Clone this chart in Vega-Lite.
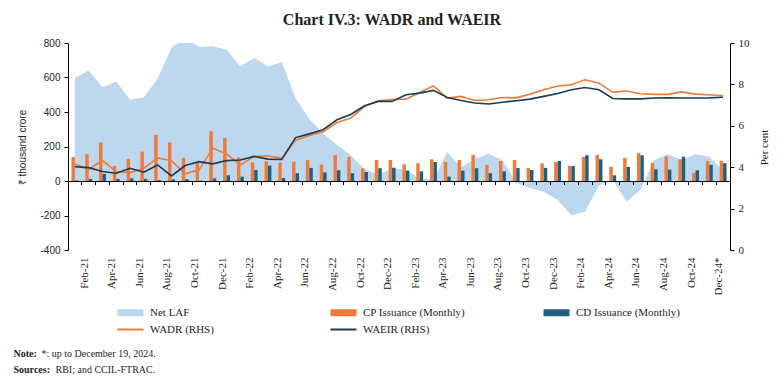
{
  "$schema": "https://vega.github.io/schema/vega-lite/v6.json",
  "width": 662,
  "height": 207,
  "autosize": {"type": "none"},
  "padding": {"left": 68, "top": 43, "right": 54, "bottom": 134},
  "background": "white",
  "title": {"text": "Chart IV.3: WADR and WAEIR", "font": "Liberation Serif", "fontSize": 16, "fontWeight": "bold", "color": "#231f20", "anchor": "middle", "frame": "group", "dx": -7, "offset": -4, "baseline": "alphabetic"},
  "config": {
    "view": {"stroke": null},
    "axis": {"grid": false, "domainColor": "#000000", "tickColor": "#000000", "labelColor": "#231f20", "titleColor": "#231f20", "domainWidth": 1, "tickWidth": 1},
    "legend": {"orient": "none", "legendX": 49, "legendY": 264, "columns": 3, "direction": "horizontal", "gridAlign": "all", "columnPadding": 72, "rowPadding": 5,
               "padding": 0, "labelFont": "Liberation Serif", "labelFontSize": 11, "labelColor": "#231f20",
               "symbolSize": 100, "symbolOffset": 8, "labelOffset": 14}
  },
  "data": {"values": [
    {"m": "Jan-21", "Net LAF": 597, "CP Issuance (Monthly)": 139, "CD Issuance (Monthly)": 3, "WADR (RHS)": 4.16, "WAEIR (RHS)": 4.02},
    {"m": "Feb-21", "Net LAF": 641, "CP Issuance (Monthly)": 157, "CD Issuance (Monthly)": 12, "WADR (RHS)": 3.90, "WAEIR (RHS)": 3.98},
    {"m": "Mar-21", "Net LAF": 544, "CP Issuance (Monthly)": 223, "CD Issuance (Monthly)": 41, "WADR (RHS)": 4.32, "WAEIR (RHS)": 3.79},
    {"m": "Apr-21", "Net LAF": 577, "CP Issuance (Monthly)": 87, "CD Issuance (Monthly)": 12, "WADR (RHS)": 3.79, "WAEIR (RHS)": 3.71},
    {"m": "May-21", "Net LAF": 471, "CP Issuance (Monthly)": 128, "CD Issuance (Monthly)": 15, "WADR (RHS)": 3.74, "WAEIR (RHS)": 3.95},
    {"m": "Jun-21", "Net LAF": 486, "CP Issuance (Monthly)": 170, "CD Issuance (Monthly)": 12, "WADR (RHS)": 3.95, "WAEIR (RHS)": 3.76},
    {"m": "Jul-21", "Net LAF": 593, "CP Issuance (Monthly)": 267, "CD Issuance (Monthly)": 6, "WADR (RHS)": 4.45, "WAEIR (RHS)": 4.11},
    {"m": "Aug-21", "Net LAF": 771, "CP Issuance (Monthly)": 223, "CD Issuance (Monthly)": 10, "WADR (RHS)": 4.31, "WAEIR (RHS)": 3.58},
    {"m": "Sep-21", "Net LAF": 830, "CP Issuance (Monthly)": 134, "CD Issuance (Monthly)": 10, "WADR (RHS)": 3.68, "WAEIR (RHS)": 4.08},
    {"m": "Oct-21", "Net LAF": 777, "CP Issuance (Monthly)": 105, "CD Issuance (Monthly)": 2, "WADR (RHS)": 3.87, "WAEIR (RHS)": 4.27},
    {"m": "Nov-21", "Net LAF": 781, "CP Issuance (Monthly)": 289, "CD Issuance (Monthly)": 15, "WADR (RHS)": 4.92, "WAEIR (RHS)": 4.16},
    {"m": "Dec-21", "Net LAF": 761, "CP Issuance (Monthly)": 250, "CD Issuance (Monthly)": 33, "WADR (RHS)": 4.64, "WAEIR (RHS)": 4.32},
    {"m": "Jan-22", "Net LAF": 664, "CP Issuance (Monthly)": 136, "CD Issuance (Monthly)": 25, "WADR (RHS)": 4.11, "WAEIR (RHS)": 4.35},
    {"m": "Feb-22", "Net LAF": 713, "CP Issuance (Monthly)": 108, "CD Issuance (Monthly)": 64, "WADR (RHS)": 4.52, "WAEIR (RHS)": 4.52},
    {"m": "Mar-22", "Net LAF": 664, "CP Issuance (Monthly)": 114, "CD Issuance (Monthly)": 89, "WADR (RHS)": 4.55, "WAEIR (RHS)": 4.39},
    {"m": "Apr-22", "Net LAF": 690, "CP Issuance (Monthly)": 107, "CD Issuance (Monthly)": 17, "WADR (RHS)": 4.43, "WAEIR (RHS)": 4.37},
    {"m": "May-22", "Net LAF": 480, "CP Issuance (Monthly)": 112, "CD Issuance (Monthly)": 45, "WADR (RHS)": 5.30, "WAEIR (RHS)": 5.43},
    {"m": "Jun-22", "Net LAF": 360, "CP Issuance (Monthly)": 122, "CD Issuance (Monthly)": 76, "WADR (RHS)": 5.53, "WAEIR (RHS)": 5.61},
    {"m": "Jul-22", "Net LAF": 276, "CP Issuance (Monthly)": 95, "CD Issuance (Monthly)": 50, "WADR (RHS)": 5.71, "WAEIR (RHS)": 5.81},
    {"m": "Aug-22", "Net LAF": 210, "CP Issuance (Monthly)": 151, "CD Issuance (Monthly)": 62, "WADR (RHS)": 6.16, "WAEIR (RHS)": 6.29},
    {"m": "Sep-22", "Net LAF": 150, "CP Issuance (Monthly)": 139, "CD Issuance (Monthly)": 45, "WADR (RHS)": 6.37, "WAEIR (RHS)": 6.55},
    {"m": "Oct-22", "Net LAF": 70, "CP Issuance (Monthly)": 74, "CD Issuance (Monthly)": 52, "WADR (RHS)": 6.93, "WAEIR (RHS)": 6.97},
    {"m": "Nov-22", "Net LAF": 35, "CP Issuance (Monthly)": 122, "CD Issuance (Monthly)": 74, "WADR (RHS)": 7.21, "WAEIR (RHS)": 7.18},
    {"m": "Dec-22", "Net LAF": 72, "CP Issuance (Monthly)": 122, "CD Issuance (Monthly)": 77, "WADR (RHS)": 7.27, "WAEIR (RHS)": 7.18},
    {"m": "Jan-23", "Net LAF": 65, "CP Issuance (Monthly)": 97, "CD Issuance (Monthly)": 60, "WADR (RHS)": 7.29, "WAEIR (RHS)": 7.50},
    {"m": "Feb-23", "Net LAF": 15, "CP Issuance (Monthly)": 103, "CD Issuance (Monthly)": 56, "WADR (RHS)": 7.61, "WAEIR (RHS)": 7.58},
    {"m": "Mar-23", "Net LAF": 8, "CP Issuance (Monthly)": 126, "CD Issuance (Monthly)": 110, "WADR (RHS)": 7.93, "WAEIR (RHS)": 7.71},
    {"m": "Apr-23", "Net LAF": 168, "CP Issuance (Monthly)": 110, "CD Issuance (Monthly)": 25, "WADR (RHS)": 7.34, "WAEIR (RHS)": 7.37},
    {"m": "May-23", "Net LAF": 80, "CP Issuance (Monthly)": 122, "CD Issuance (Monthly)": 60, "WADR (RHS)": 7.42, "WAEIR (RHS)": 7.22},
    {"m": "Jun-23", "Net LAF": 128, "CP Issuance (Monthly)": 151, "CD Issuance (Monthly)": 74, "WADR (RHS)": 7.22, "WAEIR (RHS)": 7.10},
    {"m": "Jul-23", "Net LAF": 160, "CP Issuance (Monthly)": 93, "CD Issuance (Monthly)": 45, "WADR (RHS)": 7.26, "WAEIR (RHS)": 7.05},
    {"m": "Aug-23", "Net LAF": 120, "CP Issuance (Monthly)": 116, "CD Issuance (Monthly)": 56, "WADR (RHS)": 7.37, "WAEIR (RHS)": 7.14},
    {"m": "Sep-23", "Net LAF": -10, "CP Issuance (Monthly)": 122, "CD Issuance (Monthly)": 75, "WADR (RHS)": 7.35, "WAEIR (RHS)": 7.21},
    {"m": "Oct-23", "Net LAF": -40, "CP Issuance (Monthly)": 75, "CD Issuance (Monthly)": 64, "WADR (RHS)": 7.53, "WAEIR (RHS)": 7.29},
    {"m": "Nov-23", "Net LAF": -62, "CP Issuance (Monthly)": 102, "CD Issuance (Monthly)": 76, "WADR (RHS)": 7.74, "WAEIR (RHS)": 7.42},
    {"m": "Dec-23", "Net LAF": -110, "CP Issuance (Monthly)": 109, "CD Issuance (Monthly)": 116, "WADR (RHS)": 7.92, "WAEIR (RHS)": 7.56},
    {"m": "Jan-24", "Net LAF": -198, "CP Issuance (Monthly)": 88, "CD Issuance (Monthly)": 87, "WADR (RHS)": 7.98, "WAEIR (RHS)": 7.74},
    {"m": "Feb-24", "Net LAF": -178, "CP Issuance (Monthly)": 139, "CD Issuance (Monthly)": 149, "WADR (RHS)": 8.22, "WAEIR (RHS)": 7.85},
    {"m": "Mar-24", "Net LAF": -25, "CP Issuance (Monthly)": 151, "CD Issuance (Monthly)": 126, "WADR (RHS)": 8.06, "WAEIR (RHS)": 7.74},
    {"m": "Apr-24", "Net LAF": 8, "CP Issuance (Monthly)": 83, "CD Issuance (Monthly)": 33, "WADR (RHS)": 7.63, "WAEIR (RHS)": 7.32},
    {"m": "May-24", "Net LAF": -120, "CP Issuance (Monthly)": 134, "CD Issuance (Monthly)": 82, "WADR (RHS)": 7.68, "WAEIR (RHS)": 7.30},
    {"m": "Jun-24", "Net LAF": -52, "CP Issuance (Monthly)": 163, "CD Issuance (Monthly)": 149, "WADR (RHS)": 7.55, "WAEIR (RHS)": 7.30},
    {"m": "Jul-24", "Net LAF": 120, "CP Issuance (Monthly)": 105, "CD Issuance (Monthly)": 68, "WADR (RHS)": 7.52, "WAEIR (RHS)": 7.34},
    {"m": "Aug-24", "Net LAF": 155, "CP Issuance (Monthly)": 143, "CD Issuance (Monthly)": 66, "WADR (RHS)": 7.52, "WAEIR (RHS)": 7.35},
    {"m": "Sep-24", "Net LAF": 120, "CP Issuance (Monthly)": 126, "CD Issuance (Monthly)": 141, "WADR (RHS)": 7.64, "WAEIR (RHS)": 7.34},
    {"m": "Oct-24", "Net LAF": 156, "CP Issuance (Monthly)": 47, "CD Issuance (Monthly)": 62, "WADR (RHS)": 7.53, "WAEIR (RHS)": 7.34},
    {"m": "Nov-24", "Net LAF": 140, "CP Issuance (Monthly)": 116, "CD Issuance (Monthly)": 94, "WADR (RHS)": 7.50, "WAEIR (RHS)": 7.35},
    {"m": "Dec-24", "Net LAF": 60, "CP Issuance (Monthly)": 117, "CD Issuance (Monthly)": 103, "WADR (RHS)": 7.45, "WAEIR (RHS)": 7.38}
  ]},
  "layer": [
    {
      "mark": {"type": "area", "clip": true, "opacity": 1},
      "encoding": {
        "x": {"field": "m", "type": "ordinal", "sort": null,
              "scale": {"type": "band", "paddingInner": 0, "paddingOuter": 0},
              "axis": {"orient": "bottom", "bandPosition": 0, "domain": false, "ticks": false, "tickSize": 0, "labelAngle": -90, "labelPadding": 7, "labelOffset": -4,
                       "labelFont": "Liberation Serif", "labelFontSize": 11, "labelOverlap": false, "labelBound": false,
                       "labelExpr": "indexof(['Feb','Apr','Jun','Aug','Oct','Dec'], substring(datum.value, 0, 3)) >= 0 ? (datum.value == 'Dec-24' ? 'Dec-24*' : datum.value) : ''",
                       "title": "Note:", "titleFont": "Liberation Serif", "titleFontSize": 10, "titleFontWeight": "bold",
                       "titleX": -55, "titleY": 106, "titleAlign": "left", "titleAngle": 0, "titleBaseline": "alphabetic"}},
        "y": {"field": "Net LAF", "type": "quantitative",
              "scale": {"domain": [-400, 800], "nice": false, "zero": true},
              "axis": {"orient": "left", "values": [-400, -200, 0, 200, 400, 600, 800],
                       "labelExpr": "datum.value < 0 ? '-' + abs(datum.value) : '' + datum.value",
                       "labelFont": "Liberation Sans", "labelFontSize": 10, "tickSize": 4, "labelPadding": 4,
                       "title": "₹ thousand crore", "titleFont": "Liberation Sans", "titleFontSize": 10, "titleFontWeight": "normal",
                       "titleX": -46, "titleY": 104, "titleAngle": -90, "titleBaseline": "middle", "titleAlign": "center"}},
        "color": {"datum": "Net LAF", "type": "nominal",
                  "scale": {"domain": ["Net LAF", "CP Issuance (Monthly)", "CD Issuance (Monthly)", "WADR (RHS)", "WAEIR (RHS)"],
                            "range": ["#BDD7EE", "#EE7B3A", "#1F5F80", "#EE7B3A", "#1D3C52"]},
                  "legend": {"title": null,
                             "encode": {"symbols": {"update": {
                               "shape": {"signal": "indexof(['WADR (RHS)','WAEIR (RHS)'], datum.value) >= 0 ? 'M-2.6,0L2.6,0' : 'M-2.6,-0.7L2.6,-0.7L2.6,0.7L-2.6,0.7Z'"},
                               "fill": {"signal": "indexof(['WADR (RHS)','WAEIR (RHS)'], datum.value) >= 0 ? 'transparent' : scale('color', datum.value)"},
                               "stroke": {"signal": "scale('color', datum.value)"},
                               "strokeWidth": {"signal": "indexof(['WADR (RHS)','WAEIR (RHS)'], datum.value) >= 0 ? 2 : 0"},
                               "opacity": {"value": 1}}}}}}
      }
    },
    {
      "transform": [{"fold": ["CP Issuance (Monthly)", "CD Issuance (Monthly)"], "as": ["series", "value"]}],
      "mark": {"type": "bar"},
      "encoding": {
        "x": {"field": "m", "type": "ordinal", "sort": null,
              "scale": {"type": "band", "paddingInner": 0, "paddingOuter": 0},
              "axis": {"orient": "bottom", "bandPosition": 0, "labels": false, "ticks": true, "tickSize": 3.5, "domain": true, "offset": -69, "zindex": 2,
                       "title": "*: up to December 19, 2024.", "titleFont": "Liberation Serif", "titleFontSize": 10, "titleFontWeight": "normal",
                       "titleX": -27, "titleY": 175, "titleAlign": "left", "titleAngle": 0, "titleBaseline": "alphabetic"}},
        "xOffset": {"field": "series", "type": "nominal", "sort": ["CP Issuance (Monthly)", "CD Issuance (Monthly)"],
                    "scale": {"paddingInner": 0, "paddingOuter": 1}},
        "y": {"field": "value", "type": "quantitative", "scale": {"domain": [-400, 800], "nice": false}, "axis": null},
        "color": {"field": "series", "type": "nominal",
                  "scale": {"domain": ["Net LAF", "CP Issuance (Monthly)", "CD Issuance (Monthly)", "WADR (RHS)", "WAEIR (RHS)"],
                            "range": ["#BDD7EE", "#EE7B3A", "#1F5F80", "#EE7B3A", "#1D3C52"]},
                  "legend": {"title": null,
                             "encode": {"symbols": {"update": {
                               "shape": {"signal": "indexof(['WADR (RHS)','WAEIR (RHS)'], datum.value) >= 0 ? 'M-2.6,0L2.6,0' : 'M-2.6,-0.7L2.6,-0.7L2.6,0.7L-2.6,0.7Z'"},
                               "fill": {"signal": "indexof(['WADR (RHS)','WAEIR (RHS)'], datum.value) >= 0 ? 'transparent' : scale('color', datum.value)"},
                               "stroke": {"signal": "scale('color', datum.value)"},
                               "strokeWidth": {"signal": "indexof(['WADR (RHS)','WAEIR (RHS)'], datum.value) >= 0 ? 2 : 0"},
                               "opacity": {"value": 1}}}}}}
      }
    },
    {
      "mark": {"type": "line", "strokeWidth": 1.6},
      "encoding": {
        "x": {"field": "m", "type": "ordinal", "sort": null,
              "scale": {"type": "band", "paddingInner": 0, "paddingOuter": 0},
              "axis": {"orient": "bottom", "domain": false, "ticks": false, "labels": false,
                       "title": "Sources:", "titleFont": "Liberation Serif", "titleFontSize": 10, "titleFontWeight": "bold",
                       "titleX": -55, "titleY": 122, "titleAlign": "left", "titleAngle": 0, "titleBaseline": "alphabetic"}},
        "y": {"field": "WADR (RHS)", "type": "quantitative", "scale": {"domain": [0, 10], "nice": false},
              "axis": {"orient": "right", "values": [0, 2, 4, 6, 8, 10], "labelFont": "Liberation Serif", "labelFontSize": 11, "tickSize": 4, "labelPadding": 4,
                       "title": "Per cent", "titleFont": "Liberation Serif", "titleFontSize": 11, "titleFontWeight": "normal",
                       "titleX": 34, "titleY": 104, "titleAngle": -90, "titleBaseline": "middle", "titleAlign": "center"}},
        "color": {"datum": "WADR (RHS)", "type": "nominal",
                  "scale": {"domain": ["Net LAF", "CP Issuance (Monthly)", "CD Issuance (Monthly)", "WADR (RHS)", "WAEIR (RHS)"],
                            "range": ["#BDD7EE", "#EE7B3A", "#1F5F80", "#EE7B3A", "#1D3C52"]},
                  "legend": {"title": null,
                             "encode": {"symbols": {"update": {
                               "shape": {"signal": "indexof(['WADR (RHS)','WAEIR (RHS)'], datum.value) >= 0 ? 'M-2.6,0L2.6,0' : 'M-2.6,-0.7L2.6,-0.7L2.6,0.7L-2.6,0.7Z'"},
                               "fill": {"signal": "indexof(['WADR (RHS)','WAEIR (RHS)'], datum.value) >= 0 ? 'transparent' : scale('color', datum.value)"},
                               "stroke": {"signal": "scale('color', datum.value)"},
                               "strokeWidth": {"signal": "indexof(['WADR (RHS)','WAEIR (RHS)'], datum.value) >= 0 ? 2 : 0"},
                               "opacity": {"value": 1}}}}}}
      }
    },
    {
      "mark": {"type": "line", "strokeWidth": 1.6},
      "encoding": {
        "x": {"field": "m", "type": "ordinal", "sort": null,
              "scale": {"type": "band", "paddingInner": 0, "paddingOuter": 0},
              "axis": {"orient": "bottom", "domain": false, "ticks": false, "labels": false,
                       "title": "RBI; and CCIL-FTRAC.", "titleFont": "Liberation Serif", "titleFontSize": 10, "titleFontWeight": "normal",
                       "titleX": -13, "titleY": 122, "titleAlign": "left", "titleAngle": 0, "titleBaseline": "alphabetic"}},
        "y": {"field": "WAEIR (RHS)", "type": "quantitative", "scale": {"domain": [0, 10], "nice": false}, "axis": null},
        "color": {"datum": "WAEIR (RHS)", "type": "nominal",
                  "scale": {"domain": ["Net LAF", "CP Issuance (Monthly)", "CD Issuance (Monthly)", "WADR (RHS)", "WAEIR (RHS)"],
                            "range": ["#BDD7EE", "#EE7B3A", "#1F5F80", "#EE7B3A", "#1D3C52"]},
                  "legend": {"title": null,
                             "encode": {"symbols": {"update": {
                               "shape": {"signal": "indexof(['WADR (RHS)','WAEIR (RHS)'], datum.value) >= 0 ? 'M-2.6,0L2.6,0' : 'M-2.6,-0.7L2.6,-0.7L2.6,0.7L-2.6,0.7Z'"},
                               "fill": {"signal": "indexof(['WADR (RHS)','WAEIR (RHS)'], datum.value) >= 0 ? 'transparent' : scale('color', datum.value)"},
                               "stroke": {"signal": "scale('color', datum.value)"},
                               "strokeWidth": {"signal": "indexof(['WADR (RHS)','WAEIR (RHS)'], datum.value) >= 0 ? 2 : 0"},
                               "opacity": {"value": 1}}}}}}
      }
    }
  ],
  "resolve": {"scale": {"y": "independent"}, "axis": {"x": "independent", "y": "independent"}}
}
